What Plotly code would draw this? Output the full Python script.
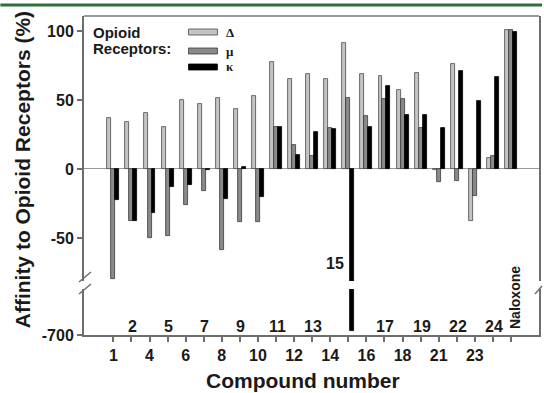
import plotly.graph_objects as go

# ---------------- data ----------------
compounds = ["1", "2", "4", "5", "6", "7", "8", "9", "10", "11", "12", "13",
             "14", "15", "16", "17", "18", "19", "21", "22", "23", "24", "Naloxone"]
delta = [36.7, 34.3, 40.8, 30.7, 49.8, 46.9, 51.7, 43.2, 52.9, 77.8, 65.2, 68.7,
         65.0, 91.5, 68.6, 67.4, 57.2, 69.5, -1.0, 75.8, -37.7, 8.2, 100.7]
mu = [-79.5, -38.0, -50.2, -48.6, -26.0, -15.7, -58.7, -38.2, -38.6, 30.2, 17.4, 9.4,
      29.5, 51.2, 38.6, 50.5, 50.5, 30.0, -9.2, -8.5, -19.6, 9.4, 100.7]
kappa = [-22.5, -37.4, -31.6, -12.8, -11.6, -1.0, -22.0, 1.7, -20.0, 30.2, 10.4, 27.0,
         29.0, -691.0, 30.7, 60.1, 39.1, 39.1, 30.0, 71.3, 49.5, 66.9, 99.5]
series_names = ["Δ", "μ", "κ"]
upper_ticks = [-50, 0, 50, 100]
lower_ticks = [-700]

# ---------------- geometry helpers (pixel -> paper) ----------------
W, H = 544, 393
ML, MR, MT, MB = 84, 3, 16, 58
PW, PH = W - ML - MR, H - MT - MB
def px(x):
    return (x - ML) / PW
def py(y):
    return (H - MB - y) / PH

n = len(compounds)
xs = list(range(n))
colors = ["#c4c4c4", "#8a8a8a", "#000000"]
edge = ["#4a4a4a", "#3a3a3a", "#000000"]
offsets = [-0.33, -0.11, 0.11]
bw = 0.22

fig = go.Figure()
for yax in ["y", "y2"]:
    for name, vals, c, e, off in zip(series_names, [delta, mu, kappa], colors, edge, offsets):
        fig.add_trace(go.Bar(
            x=xs, y=vals, name=name, xaxis="x", yaxis=yax,
            offset=off, width=bw, base=0,
            marker=dict(color=c, line=dict(color=e, width=0.8)),
            showlegend=False, hoverinfo="skip"))

FONT = "Liberation Sans, Arial, sans-serif"
TXT = "#1a1a1a"
AX = "#6e6e6e"

lower_text = [c if (i % 2 == 0 and i < n - 1) else "" for i, c in enumerate(compounds)]

fig.update_layout(
    width=W, height=H, margin=dict(l=ML, r=MR, t=MT, b=MB),
    paper_bgcolor="white", plot_bgcolor="white",
    barmode="overlay", bargap=0,
    font=dict(family=FONT, color=TXT),
    xaxis=dict(domain=[0, 1], range=[-1.625, 23.55], anchor="y2",
               showline=True, linecolor=AX, linewidth=2,
               ticks="outside", ticklen=5, tickwidth=1.5, tickcolor=AX,
               tickmode="array", tickvals=xs, ticktext=lower_text,
               tickfont=dict(size=16, family=FONT, color=TXT, weight="bold"),
               showgrid=False, zeroline=False),
    yaxis=dict(domain=[py(281), 1], range=[-81.2, 110.9], anchor="x",
               showline=True, mirror=True, linecolor=AX, linewidth=2,
               ticks="outside", ticklen=5, tickwidth=1.5, tickcolor=AX,
               tickmode="array", tickvals=upper_ticks,
               ticktext=[str(v) for v in upper_ticks],
               tickfont=dict(size=16, family=FONT, color=TXT, weight="bold"),
               showgrid=False, zeroline=True, zerolinecolor="#9a9a9a", zerolinewidth=1.2),
    yaxis2=dict(domain=[0, py(289)], range=[-700, -600], anchor="x",
                showline=True, mirror=True, linecolor=AX, linewidth=2,
                ticks="outside", ticklen=5, tickwidth=1.5, tickcolor=AX,
                tickmode="array", tickvals=lower_ticks,
                ticktext=[str(v) for v in lower_ticks],
                tickfont=dict(size=16, family=FONT, color=TXT, weight="bold"),
                showgrid=False, zeroline=False),
)

shapes = []
# green rule at top of page
shapes.append(dict(type="line", xref="paper", yref="paper",
                   x0=px(0), x1=px(W), y0=py(5), y1=py(5),
                   line=dict(color="#2e6e3c", width=3)))
# top border of the frame
shapes.append(dict(type="line", xref="paper", yref="paper",
                   x0=0, x1=1, y0=1, y1=1, line=dict(color="#9a9a9a", width=2)))
# axis break marks
for (x0, y0, x1, y1) in [(79, 282, 91, 272), (79, 294, 91, 284), (537, 294, 544, 286)]:
    shapes.append(dict(type="line", xref="paper", yref="paper",
                       x0=px(x0), y0=py(y0), x1=px(x1), y1=py(y1),
                       line=dict(color=AX, width=1.5)))
# legend swatches
for (yy, c, e) in zip([32, 51, 67], colors, edge):
    shapes.append(dict(type="rect", xref="paper", yref="paper",
                       x0=px(189), x1=px(218), y0=py(yy + 3), y1=py(yy - 3),
                       fillcolor=c, line=dict(color=e, width=0.8)))

def ann(**kw):
    d = dict(showarrow=False, xanchor="center", yanchor="middle")
    d.update(kw)
    annotations.append(d)

annotations = []
# upper row of compound labels
for i, c in enumerate(compounds):
    if i % 2 == 1 and c != "15":
        ann(x=i, xref="x", y=py(326), yref="paper", text=c, xshift=1,
            font=dict(size=16, family=FONT, color=TXT, weight="bold"))
# label for compound 15 (beside its bar)
i15 = compounds.index("15")
ann(x=i15, xref="x", y=py(263), yref="paper", text="15", xanchor="right", xshift=-2,
    font=dict(size=16, family=FONT, color=TXT, weight="bold"))
# Naloxone vertical label
ann(x=n - 1, xref="x", y=py(297), yref="paper", text="Naloxone", textangle=-90, xshift=4,
    font=dict(size=14, family=FONT, color=TXT, weight="bold"))
# legend text
ann(x=px(91), y=py(32), xref="paper", yref="paper", text="Opioid", xanchor="left",
    font=dict(size=15, family=FONT, color=TXT, weight="bold"))
ann(x=px(91), y=py(49), xref="paper", yref="paper", text="Receptors:", xanchor="left",
    font=dict(size=15, family=FONT, color=TXT, weight="bold"))
for yy, s in zip([32, 51, 67], series_names):
    ann(x=px(225), y=py(yy), xref="paper", yref="paper", text=s, xanchor="left",
        font=dict(size=13, family="Liberation Serif, serif", color=TXT, weight="bold"))
# axis titles
ann(x=px(22), y=py(170), xref="paper", yref="paper",
    text="Affinity to Opioid Receptors (%)", textangle=-90,
    font=dict(size=21, family=FONT, color=TXT, weight="bold"))
ann(x=px(304), y=py(380), xref="paper", yref="paper", text="Compound number",
    font=dict(size=21, family=FONT, color=TXT, weight="bold"))

fig.update_layout(shapes=shapes, annotations=annotations)
fig.write_html("out.html")
